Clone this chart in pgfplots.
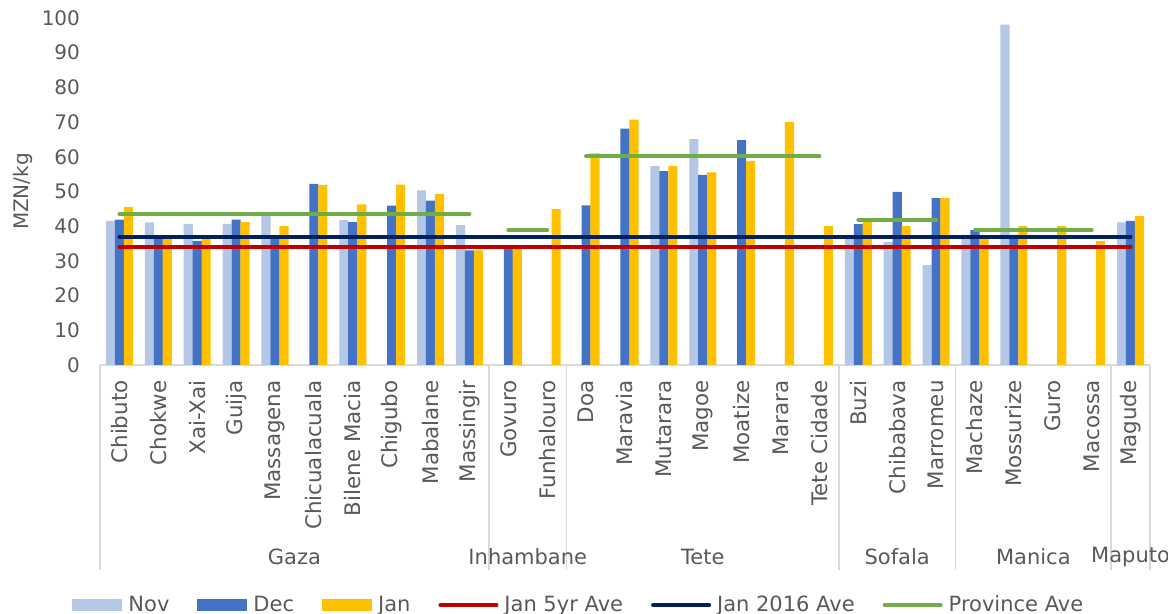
\documentclass[border=0pt]{standalone}
\usepackage{pgfplots}
\pgfplotsset{compat=1.18}
\usepackage{fontspec}
\setmainfont{DejaVu Sans}

\definecolor{cNov}{HTML}{B4C7E7}
\definecolor{cDec}{HTML}{4472C4}
\definecolor{cJan}{HTML}{FFC000}
\definecolor{cFive}{HTML}{C00000}
\definecolor{cSix}{HTML}{002060}
\definecolor{cProv}{HTML}{70AD47}
\definecolor{txt}{HTML}{595959}
\definecolor{rule}{HTML}{D9D9D9}

\pgfplotsset{
  barleg/.style={legend image code/.code={\fill[##1] (0pt,-3pt) rectangle (25pt,3pt);}},
  lineleg/.style={legend image code/.code={\draw[##1] (0pt,0pt) -- (28pt,0pt);}},
}

\begin{document}
\begin{tikzpicture}
\path[use as bounding box] (-50pt,-124.5pt) rectangle (534pt,182.5pt);
\begin{axis}[
  at={(0,0)}, anchor=south west,
  scale only axis, width=525pt, height=173.5pt,
  xmin=-0.5, xmax=26.5, ymin=0, ymax=100,
  clip=false,
  axis x line*=bottom, axis y line*=left,
  x axis line style={draw=rule, line width=0.8pt},
  y axis line style={draw=none},
  ytick={0,10,...,100},
  ytick style={draw=none},
  xtick={0,...,26},
  xtick style={draw=none},
  xticklabels={Chibuto,Chokwe,Xai-Xai,Guija,Massagena,Chicualacuala,Bilene Macia,Chigubo,Mabalane,Massingir,Govuro,Funhalouro,Doa,Maravia,Mutarara,Magoe,Moatize,Marara,Tete Cidade,Buzi,Chibabava,Marromeu,Machaze,Mossurize,Guro,Macossa,Magude},
  xticklabel style={rotate=90, anchor=east, inner sep=0pt, xshift=-7.5pt, font=\fontsize{10.7}{12}\selectfont},
  yticklabel style={font=\fontsize{10}{12}\selectfont, xshift=-6.5pt},
  tick label style={text=txt},
  /pgf/number format/assume math mode=true,
  ylabel={MZN/kg},
  ylabel style={at={(axis description cs:-0.0733,0.5)}, anchor=center, text=txt, font=\fontsize{10}{12}\selectfont},
  unbounded coords=jump,
  legend columns=6,
  legend style={draw=none, at={(axis description cs:0.457,-0.692)}, anchor=center,
    font=\fontsize{10.5}{12}\selectfont, text=txt,
    /tikz/every even column/.append style={column sep=12pt},
    /tikz/every odd column/.append style={column sep=1pt}},
]
% Nov
\addplot[ybar, bar width=0.235, bar shift=-0.23, fill=cNov, draw=none, barleg] coordinates {
 (0,41.5) (1,41.1) (2,40.7) (3,40.7) (4,43.0) (6,41.8) (8,50.3) (9,40.3)
 (14,57.3) (15,65.1) (19,37.5) (20,35.4) (21,28.8) (22,37.5) (23,98.1) (26,41.1)};
\addlegendentry{Nov}
% Dec
\addplot[ybar, bar width=0.235, bar shift=0, fill=cDec, draw=none, barleg] coordinates {
 (0,41.9) (1,36.7) (2,35.8) (3,41.9) (4,37.0) (5,52.2) (6,41.2) (7,45.9) (8,47.4) (9,33.0)
 (10,34.0) (12,46.0) (13,68.1) (14,55.9) (15,54.8) (16,64.8)
 (19,40.6) (20,49.9) (21,48.1) (22,38.9) (23,37.5) (26,41.5)};
\addlegendentry{Dec}
% Jan
\addplot[ybar, bar width=0.235, bar shift=0.23, fill=cJan, draw=none, barleg] coordinates {
 (0,45.5) (1,36.7) (2,36.5) (3,41.2) (4,40.0) (5,51.9) (6,46.3) (7,52.0) (8,49.3) (9,33.0)
 (10,33.5) (11,44.9) (12,61.0) (13,70.7) (14,57.3) (15,55.5) (16,58.8) (17,70.0) (18,40.0)
 (19,41.3) (20,40.0) (21,48.1) (22,37.0) (23,40.0) (24,40.0) (25,35.8) (26,42.9)};
\addlegendentry{Jan}
% averages
\addplot[cFive, line width=2pt, line cap=round, lineleg] coordinates {(0,34.1) (26,34.1)};
\addlegendentry{Jan 5yr Ave}
\addplot[cSix, line width=2pt, line cap=round, lineleg] coordinates {(0,37.0) (26,37.0)};
\addlegendentry{Jan 2016 Ave}
\addplot[cProv, line width=2pt, line cap=round, lineleg] coordinates {
 (0,43.4) (9,43.4) (9.5,nan)
 (10,38.8) (11,38.8) (11.5,nan)
 (12,60.1) (18,60.1) (18.5,nan)
 (19,41.8) (21,41.8) (21.5,nan)
 (22,38.8) (25,38.8)};
\addlegendentry{Province Ave}
% group dividers and labels
\foreach \xx in {-0.5,9.5,11.5,18.5,21.5,25.5,26.5}{
  \edef\tmp{\noexpand\draw[rule, line width=0.8pt] (axis cs:\xx,0) -- ([yshift=-102.5pt]axis cs:\xx,0);}\tmp
}
\foreach \xx/\nm in {4.5/Gaza,10.5/Inhambane,15/Tete,20/Sofala,23.5/Manica,26/Maputo}{
  \edef\tmp{\noexpand\node[text=txt, font=\noexpand\fontsize{10.5}{12}\noexpand\selectfont, anchor=center]
    at ([yshift=-96pt]axis cs:\xx,0) {\nm};}\tmp
}
\end{axis}
\end{tikzpicture}
\end{document}
